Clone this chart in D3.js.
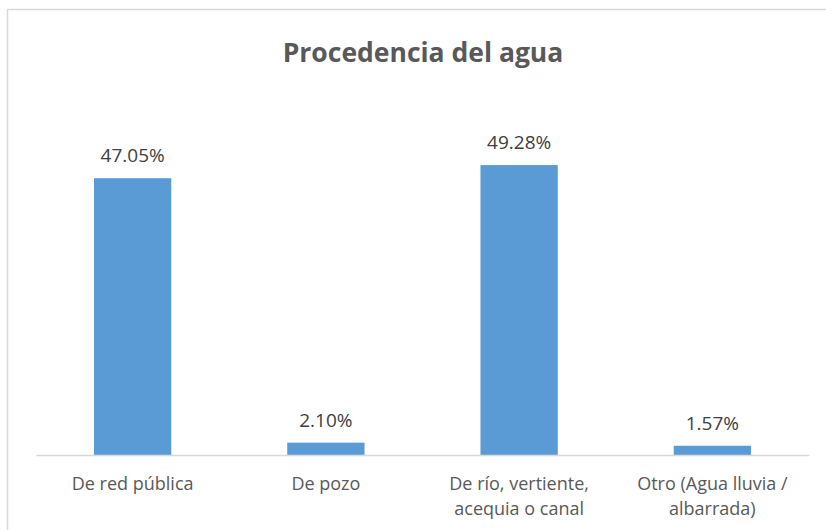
<!DOCTYPE html>
<html>
<head>
<meta charset="utf-8">
<script src="https://cdn.jsdelivr.net/npm/d3@7"></script>
<style>
  body { margin: 0; background: #fff; }
  text { font-family: "Open Sans", sans-serif; }
</style>
</head>
<body>
<svg width="826" height="530"></svg>
<script>
const categories = [
  ["De red pública"],
  ["De pozo"],
  ["De río, vertiente,", "acequia o canal"],
  ["Otro (Agua lluvia /", "albarrada)"]
];
const values = [47.05, 2.10, 49.28, 1.57];
const title = "Procedencia del agua";

const svg = d3.select("svg");

// chart frame
svg.append("rect")
  .attr("x", 7.5).attr("y", 9.5)
  .attr("width", 830).attr("height", 540)
  .attr("fill", "none")
  .attr("stroke", "#d9d9d9")
  .attr("stroke-width", 1.5);

svg.append("text")
  .attr("x", 423).attr("y", 62)
  .attr("text-anchor", "middle")
  .attr("font-size", 26.5)
  .attr("font-weight", "bold")
  .attr("fill", "#595959")
  .text(title);

const margin = { left: 36, right: 17, baseline: 455 };
const x = d3.scaleBand()
  .domain(d3.range(values.length))
  .range([margin.left, 826 - margin.right])
  .paddingInner(0.6)
  .paddingOuter(0.3);

const y = d3.scaleLinear().domain([0, 60]).range([margin.baseline, 102]);

svg.selectAll("rect.bar")
  .data(values)
  .enter()
  .append("rect")
  .attr("class", "bar")
  .attr("x", (d, i) => x(i))
  .attr("y", (d) => y(d))
  .attr("width", x.bandwidth())
  .attr("height", (d) => y(0) - y(d))
  .attr("fill", "#5b9bd5");

// baseline axis
const xAxis = d3.axisBottom(x).tickSize(0).tickFormat("");
const axisG = svg.append("g")
  .attr("transform", `translate(0,${margin.baseline})`)
  .call(xAxis);
axisG.select(".domain").attr("stroke", "#d9d9d9").attr("stroke-width", 1.5);

svg.selectAll("text.val")
  .data(values)
  .enter()
  .append("text")
  .attr("class", "val")
  .attr("x", (d, i) => x(i) + x.bandwidth() / 2)
  .attr("y", (d) => y(d) - 16)
  .attr("text-anchor", "middle")
  .attr("font-size", 19)
  .attr("fill", "#404040")
  .text((d) => d.toFixed(2) + "%");

const labels = svg.selectAll("text.cat")
  .data(categories)
  .enter()
  .append("text")
  .attr("class", "cat")
  .attr("text-anchor", "middle")
  .attr("font-size", 18)
  .attr("fill", "#595959");

labels.selectAll("tspan")
  .data((d, i) => d.map((line) => ({ line, i })))
  .enter()
  .append("tspan")
  .attr("x", (d) => x(d.i) + x.bandwidth() / 2)
  .attr("y", (d, j) => 490 + j * 25)
  .text((d) => d.line);
</script>
</body>
</html>
